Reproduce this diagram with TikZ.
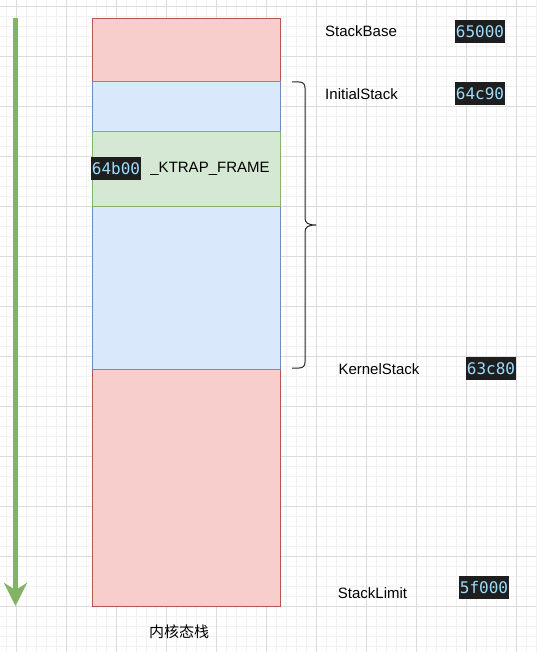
\documentclass[tikz,border=0pt]{standalone}
\usepackage{fontspec}
\setmainfont{Liberation Sans}
\newfontfamily\cjkfont{Noto Sans CJK SC}
\newfontfamily\hexfont{DejaVu Sans Mono}
\usetikzlibrary{arrows.meta}
\definecolor{gridminor}{HTML}{F1F1F1}
\definecolor{gridmajor}{HTML}{DCDCDC}
\definecolor{redfill}{HTML}{F8CECC}
\definecolor{redline}{HTML}{B85450}
\definecolor{bluefill}{HTML}{DAE8FC}
\definecolor{blueline}{HTML}{6C8EBF}
\definecolor{greenfill}{HTML}{D5E8D4}
\definecolor{greenline}{HTML}{82B366}
\definecolor{hexbg}{HTML}{1E1E1E}
\definecolor{hexfg}{HTML}{9CDCFE}
\begin{document}
\begin{tikzpicture}[x=1pt,y=-1pt,
  minorline/.style={gridminor,line width=0.8pt},
  majorline/.style={gridmajor,line width=0.8pt},
  region/.style={draw,line width=1pt,inner sep=0pt,anchor=north west},
  label/.style={font=\fontsize{15}{18}\selectfont,inner sep=0pt,text=black},
  hexbox/.style={fill=hexbg,text=hexfg,font=\hexfont\fontsize{16}{18}\selectfont,inner xsep=0.5pt,inner ysep=0pt,minimum height=23pt,minimum width=48pt},
]
\useasboundingbox (0,0) rectangle (536,652);
\fill[white] (0,0) rectangle (536,652);
\foreach \x in {6,16,...,536} \draw[minorline] (\x,0) -- (\x,652);
\foreach \y in {6,16,...,652} \draw[minorline] (0,\y) -- (536,\y);
\foreach \x in {16,66,...,536} \draw[majorline] (\x,0) -- (\x,652);
\foreach \y in {6,56,...,652} \draw[majorline] (0,\y) -- (536,\y);

% stack regions
\node[region,fill=redfill,draw=redline,minimum width=188pt,minimum height=588pt] (stack) at (92,18) {};
\node[region,fill=bluefill,draw=blueline,minimum width=188pt,minimum height=288pt] (kstack) at (92,81) {};
\node[region,fill=greenfill,draw=greenline,minimum width=188pt,minimum height=75pt] (trap) at (92,131) {};

% green arrow
\coordinate (astart) at (15.5,18);
\coordinate (aend) at (15.5,606);
\draw[greenline,line width=5pt,-{Stealth[length=23pt,width=23pt,inset=7pt]}] (astart) -- (aend);

% brace
\draw[black!85,line width=1pt] (292,82) -- (299,82) .. controls (303,82) and (305,84) .. (305,88) -- (305,218) .. controls (305,223) and (308,225) .. (316,225) .. controls (308,225) and (305,227) .. (305,232) -- (305,362) .. controls (305,366) and (303,368) .. (299,368) -- (292,368);

% labels
\node[label] (lbase) at (361,31) {StackBase};
\node[label] (linit) at (361.5,94) {InitialStack};
\node[label] (lkern) at (379,369) {KernelStack};
\node[label] (llimit) at (372.5,593.5) {StackLimit};
\node[label] (ltrap) at (210,168.5) {\_KTRAP\_FRAME};
\node[label,font=\cjkfont\fontsize{15}{18}\selectfont] (lname) at (179,632) {内核态栈};

% hex values
\node[hexbox] (h1) at (480,31.5) {65000};
\node[hexbox] (h2) at (480,93.5) {64c90};
\node[hexbox] (h3) at (491,368.5) {63c80};
\node[hexbox] (h4) at (484,587.5) {5f000};
\node[hexbox] (h5) at (116,168.5) {64b00};
\end{tikzpicture}
\end{document}
